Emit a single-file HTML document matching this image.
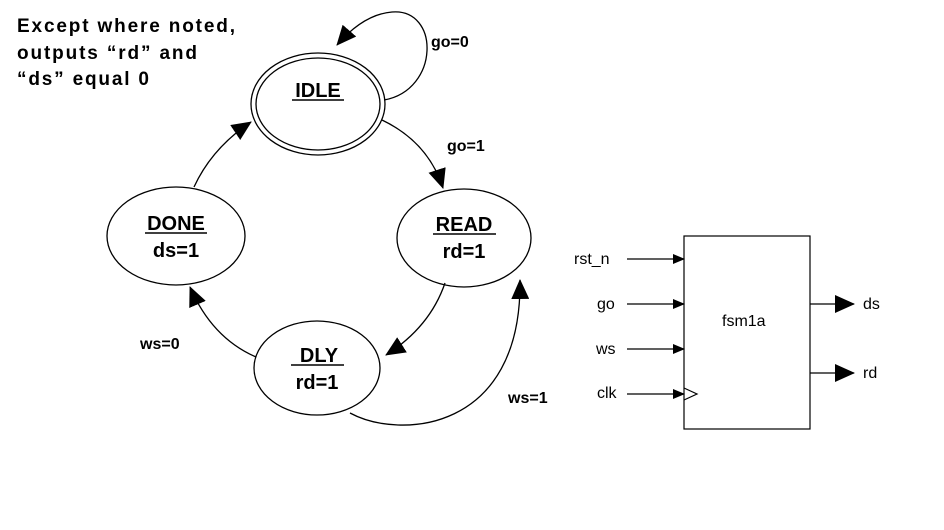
<!DOCTYPE html>
<html><head><meta charset="utf-8"><style>
html,body{margin:0;padding:0;background:#fff;}
svg{display:block;}
.b{font-family:"Liberation Sans",sans-serif;font-weight:bold;fill:#000;}
.n{font-family:"Liberation Sans",sans-serif;fill:#000;}
</style></head><body>
<svg width="944" height="530" viewBox="0 0 944 530" xmlns="http://www.w3.org/2000/svg">
<defs>
<marker id="a" markerWidth="12" markerHeight="10" refX="11" refY="5" orient="auto" markerUnits="userSpaceOnUse">
<path d="M0,0 L12,5 L0,10 Z" fill="#000"/></marker>
<marker id="A" markerWidth="20" markerHeight="18" refX="19" refY="9" orient="auto" markerUnits="userSpaceOnUse">
<path d="M0,0 L20,9 L0,18 Z" fill="#000"/></marker>
</defs>
<text class="b" x="17" y="32" font-size="19" textLength="218">Except where noted,</text>
<text class="b" x="17" y="59" font-size="19" textLength="180">outputs “rd” and</text>
<text class="b" x="17" y="85" font-size="19" textLength="132">“ds” equal 0</text>

<g fill="none" stroke="#000" stroke-width="1.3">
<ellipse cx="318" cy="104" rx="67" ry="51"/>
<ellipse cx="318" cy="104" rx="62" ry="46"/>
<ellipse cx="176" cy="236" rx="69" ry="49"/>
<ellipse cx="464" cy="238" rx="67" ry="49"/>
<ellipse cx="317" cy="368" rx="63" ry="47"/>
<path d="M384,100 C440,90 440,8 392,12 C368,14 350,30 337,45" marker-end="url(#A)"/>
<path d="M382,120 Q428,142 443,188" marker-end="url(#A)"/>
<path d="M445,283 Q430,327 386,355" marker-end="url(#A)"/>
<path d="M256,357 Q212,338 190,287" marker-end="url(#A)"/>
<path d="M194,187 Q212,148 251,122" marker-end="url(#A)"/>
<path d="M350,413 C400,440 522,432 520,280" marker-end="url(#A)"/>
</g>

<g class="b" font-size="20" text-anchor="middle">
<text x="318" y="97">IDLE</text>
<text x="176" y="230">DONE</text><text x="176" y="257">ds=1</text>
<text x="464" y="231">READ</text><text x="464" y="258">rd=1</text>
<text x="319" y="362">DLY</text><text x="317" y="389">rd=1</text>
</g>
<g stroke="#000" stroke-width="1.5">
<line x1="292" y1="100" x2="344" y2="100"/>
<line x1="145" y1="233" x2="207" y2="233"/>
<line x1="433" y1="234" x2="496" y2="234"/>
<line x1="291" y1="365" x2="344" y2="365"/>
</g>
<g class="b" font-size="16">
<text x="431" y="47">go=0</text>
<text x="447" y="151">go=1</text>
<text x="140" y="349">ws=0</text>
<text x="508" y="403">ws=1</text>
</g>

<rect x="684" y="236" width="126" height="193" fill="none" stroke="#000" stroke-width="1.2"/>
<g stroke="#000" stroke-width="1.2" fill="none">
<line x1="627" y1="259" x2="684" y2="259" marker-end="url(#a)"/>
<line x1="627" y1="304" x2="684" y2="304" marker-end="url(#a)"/>
<line x1="627" y1="349" x2="684" y2="349" marker-end="url(#a)"/>
<line x1="627" y1="394" x2="684" y2="394" marker-end="url(#a)"/>
<line x1="810" y1="304" x2="854" y2="304" marker-end="url(#A)"/>
<line x1="810" y1="373" x2="854" y2="373" marker-end="url(#A)"/>
<path d="M684,388 L697,394 L684,400"/>
</g>
<g class="n" font-size="16">
<text x="574" y="264">rst_n</text>
<text x="597" y="309">go</text>
<text x="596" y="354">ws</text>
<text x="597" y="398">clk</text>
<text x="722" y="326">fsm1a</text>
<text x="863" y="309">ds</text>
<text x="863" y="378">rd</text>
</g>
</svg>
</body></html>
